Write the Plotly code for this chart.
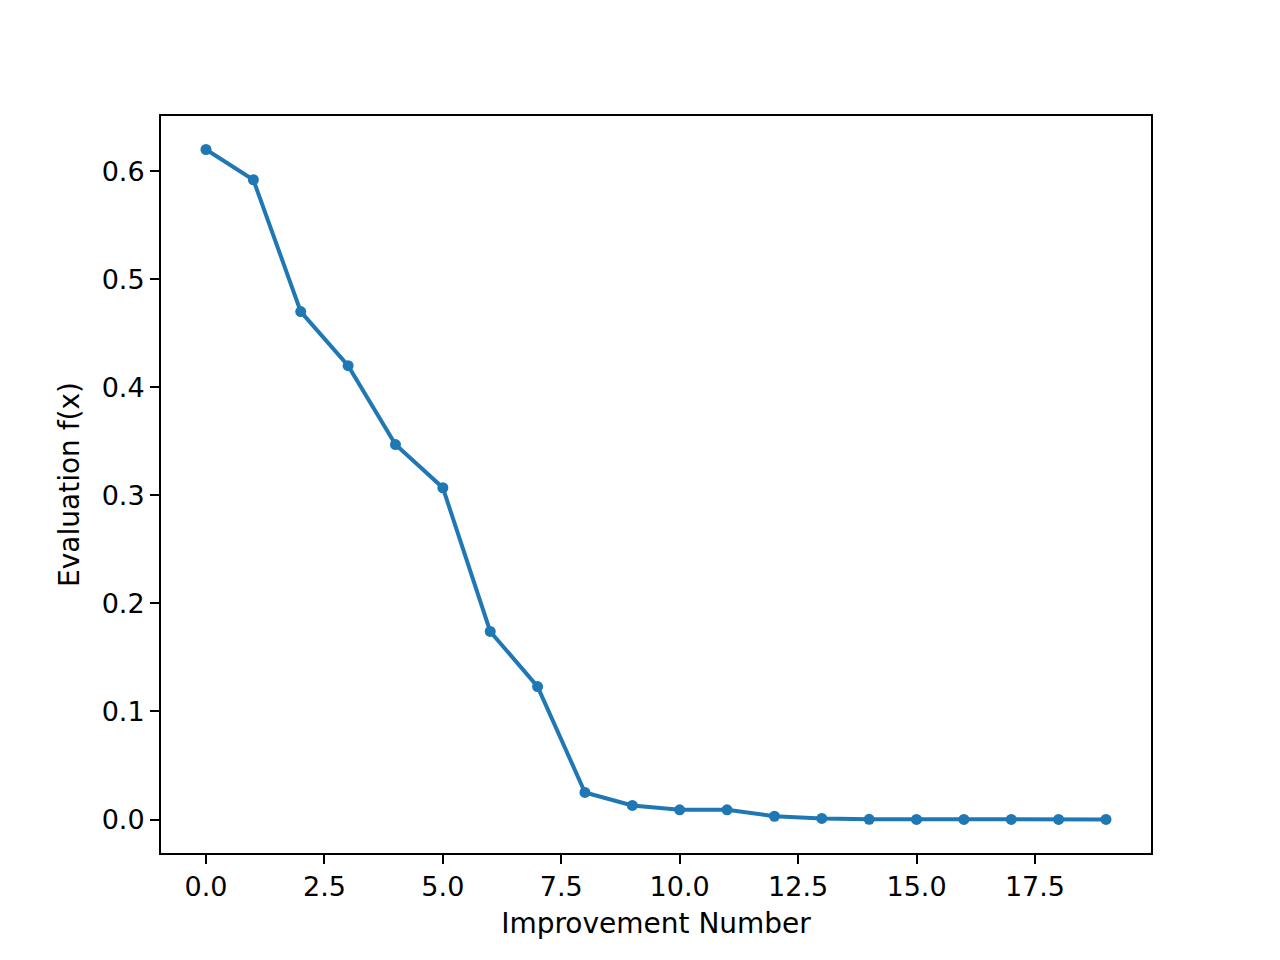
import plotly.graph_objects as go

improvement = list(range(20))
evaluation = [0.620, 0.592, 0.470, 0.420, 0.347, 0.307, 0.174, 0.123, 0.025, 0.013,
              0.009, 0.009, 0.003, 0.001, 0.0002, 0.0001, 0.0001, 0.0001, 0.0001, 0.0001]

x_ticks = [0.0, 2.5, 5.0, 7.5, 10.0, 12.5, 15.0, 17.5]
y_ticks = [0.0, 0.1, 0.2, 0.3, 0.4, 0.5, 0.6]

fig = go.Figure(go.Scatter(
    x=improvement, y=evaluation, mode="lines+markers",
    line=dict(color="#1f77b4", width=4),
    marker=dict(color="#1f77b4", size=11),
))

axis_common = dict(
    showgrid=False, zeroline=False, showline=True, linecolor="black", linewidth=2,
    mirror=True, ticks="outside", ticklen=9, tickwidth=2, tickcolor="black",
    tickfont=dict(family="DejaVu Sans", size=27, color="black"),
)

fig.update_layout(
    width=1280, height=960,
    margin=dict(l=153, r=137, t=108, b=115),
    paper_bgcolor="white", plot_bgcolor="white",
    showlegend=False,
    font=dict(family="DejaVu Sans", size=28, color="black"),
    xaxis=dict(range=[-0.95, 19.95], tickvals=x_ticks,
               ticktext=[f"{v:.1f}" for v in x_ticks],
               title=dict(text="Improvement Number", font=dict(size=28), standoff=12),
               **axis_common),
    yaxis=dict(range=[-0.031, 0.651], tickvals=y_ticks,
               ticktext=[f"{v:.1f}" for v in y_ticks],
               title=dict(text="Evaluation f(x)", font=dict(size=28), standoff=14),
               **axis_common),
)

fig.write_html("out.html")
